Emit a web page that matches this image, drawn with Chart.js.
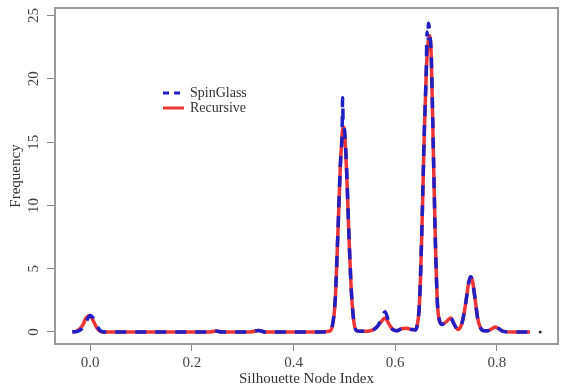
<!DOCTYPE html>
<html>
<head>
<meta charset="utf-8">
<script src="https://cdn.jsdelivr.net/npm/chart.js@4"></script>
<style>
  html, body { margin: 0; padding: 0; background: #fff; }
  #wrap { width: 562px; height: 389px; }
</style>
</head>
<body>
<div id="wrap"><canvas id="myChart" width="562" height="389"></canvas></div>
<script>
  // values
  const nodeIndex = [-0.035, -0.025, -0.015, -0.008, 0.0, 0.006, 0.013, 0.022, 0.03, 0.1, 0.2, 0.235, 0.247, 0.26, 0.315, 0.331, 0.345, 0.45,
    0.47, 0.476, 0.482, 0.487, 0.492, 0.4955, 0.4965, 0.4975, 0.4985, 0.501, 0.505, 0.509, 0.514, 0.519, 0.524, 0.532,
    0.545, 0.555, 0.563, 0.572, 0.58, 0.588, 0.595, 0.603, 0.612, 0.622, 0.632, 0.639,
    0.643, 0.648, 0.653, 0.657, 0.661, 0.6625, 0.664, 0.6655, 0.668, 0.671, 0.675, 0.679, 0.683, 0.687, 0.692, 0.7, 0.709, 0.716, 0.723,
    0.729, 0.734, 0.739, 0.744, 0.748, 0.752, 0.757, 0.762, 0.768, 0.775, 0.782, 0.79, 0.797, 0.804, 0.812, 0.83, 0.865]

  const spinGlass = [0.0, 0.05, 0.3, 0.8, 1.3, 1.1, 0.5, 0.05, 0, 0, 0, 0, 0.08, 0, 0, 0.12, 0, 0,
    0.05, 0.45, 2.6, 7.6, 13.2, 15.8, 18.5, 16.5, 16.3, 15.6, 12.2, 7.6, 3.0, 0.7, 0.1, 0.05,
    0.05, 0.15, 0.35, 0.9, 1.6, 0.7, 0.2, 0.1, 0.25, 0.3, 0.2, 0.15,
    0.5, 2.6, 9.2, 15.7, 20.8, 23.7, 23.2, 24.4, 23.6, 21.6, 14.2, 7.0, 2.2, 0.9, 0.6, 0.8, 1.1, 0.6, 0.2,
    0.45, 1.2, 2.4, 3.8, 4.37, 4.0, 2.6, 1.1, 0.3, 0.1, 0.1, 0.25, 0.4, 0.25, 0.05, 0, 0]

  const recursive = [0.0, 0.1, 0.5, 1.1, 1.3, 0.9, 0.35, 0.02, 0, 0, 0, 0, 0.08, 0, 0, 0.12, 0, 0,
    0.05, 0.4, 2.5, 7.5, 13.0, 15.6, 16.0, 16.1, 16.2, 15.4, 12.0, 7.5, 3.0, 0.7, 0.1, 0.05,
    0.05, 0.15, 0.35, 0.8, 1.1, 0.6, 0.2, 0.1, 0.25, 0.3, 0.2, 0.2,
    0.5, 2.5, 9.0, 15.5, 20.5, 21.8, 22.6, 23.1, 23.4, 21.5, 14.0, 7.0, 2.2, 0.9, 0.6, 0.8, 1.1, 0.6, 0.2,
    0.45, 1.2, 2.4, 3.8, 4.37, 4.0, 2.6, 1.1, 0.3, 0.1, 0.1, 0.25, 0.4, 0.25, 0.05, 0, 0]

  const strayX = [0.885]
  const strayY = [0]

  const xTicks = [0.0, 0.2, 0.4, 0.6, 0.8]
  const yTicks = [0, 5, 10, 15, 20, 25]

  const blue = '#1f1fc4'
  const red = '#ee3434'
  const serif = '"Liberation Serif", "DejaVu Serif", serif'

  function pts(xs, ys) {
    return xs.map((x, i) => ({x: x, y: ys[i]}))
  }

  // box, rotated y tick labels and the legend inside the plot
  const extras = {
    id: 'extras',
    afterDraw(chart) {
      const ctx = chart.ctx
      const a = chart.chartArea
      ctx.save()
      ctx.strokeStyle = '#9a9a9a'
      ctx.lineWidth = 2
      ctx.strokeRect(a.left, a.top, a.right - a.left, a.bottom - a.top)

      const ys = chart.scales.y
      ctx.fillStyle = '#444'
      ctx.font = '15px ' + serif
      ctx.textAlign = 'center'
      ctx.textBaseline = 'middle'
      yTicks.forEach(v => {
        ctx.save()
        ctx.translate(34, ys.getPixelForValue(v))
        ctx.rotate(-Math.PI / 2)
        ctx.fillText(String(v), 0, 0)
        ctx.restore()
      })

      // legend
      ctx.lineWidth = 3
      ctx.strokeStyle = blue
      ctx.setLineDash([6, 5])
      ctx.beginPath(); ctx.moveTo(163, 93); ctx.lineTo(184, 93); ctx.stroke()
      ctx.setLineDash([])
      ctx.strokeStyle = red
      ctx.beginPath(); ctx.moveTo(163, 108); ctx.lineTo(184, 108); ctx.stroke()
      ctx.fillStyle = '#333'
      ctx.font = '14px ' + serif
      ctx.textAlign = 'left'
      ctx.fillText(chart.data.datasets[0].label, 190, 93)
      ctx.fillText(chart.data.datasets[1].label, 190, 108)
      ctx.restore()
    }
  }

  const config = {
    type: 'line',
    data: {
      datasets: [
        {
          label: 'SpinGlass',
          data: pts(nodeIndex, spinGlass),
          borderColor: blue,
          borderWidth: 3.5,
          borderDash: [11, 9],
          pointRadius: 0,
          fill: false,
          cubicInterpolationMode: 'monotone'
        },
        {
          label: 'Recursive',
          data: pts(nodeIndex, recursive),
          borderColor: red,
          borderWidth: 3.5,
          pointRadius: 0,
          fill: false,
          cubicInterpolationMode: 'monotone'
        },
        {
          label: 'stray',
          data: pts(strayX, strayY),
          showLine: false,
          pointRadius: 1.5,
          pointBackgroundColor: '#223',
          pointBorderWidth: 0
        }
      ]
    },
    options: {
      responsive: false,
      animation: false,
      layout: { padding: { top: 8, right: 1, left: 0, bottom: 0 } },
      plugins: {
        legend: { display: false },
        tooltip: { enabled: false }
      },
      scales: {
        x: {
          type: 'linear',
          min: -0.069,
          max: 0.92,
          afterBuildTicks: s => { s.ticks = xTicks.map(v => ({value: v})) },
          afterFit: s => { s.height = 45 },
          border: { display: false },
          grid: { drawOnChartArea: false, drawTicks: true, tickLength: 7, color: '#888', lineWidth: 1 },
          ticks: {
            color: '#444',
            font: { family: serif, size: 15 },
            padding: 3,
            maxRotation: 0,
            callback: v => v.toFixed(1)
          },
          title: {
            display: true,
            text: 'Silhouette Node Index',
            color: '#333',
            font: { family: serif, size: 15 },
            padding: { top: 0, bottom: 1 }
          }
        },
        y: {
          type: 'linear',
          min: -0.95,
          max: 25.6,
          afterBuildTicks: s => { s.ticks = yTicks.map(v => ({value: v})) },
          afterFit: s => { s.width = 55 },
          border: { display: false },
          grid: { drawOnChartArea: false, drawTicks: true, tickLength: 8, color: '#888', lineWidth: 1 },
          ticks: { display: false },
          title: {
            display: true,
            text: 'Frequency',
            color: '#333',
            font: { family: serif, size: 15 },
            padding: { top: 7, bottom: 0 }
          }
        }
      }
    },
    plugins: [extras]
  }

  const myChart = new Chart(document.getElementById('myChart'), config)
</script>
</body>
</html>
